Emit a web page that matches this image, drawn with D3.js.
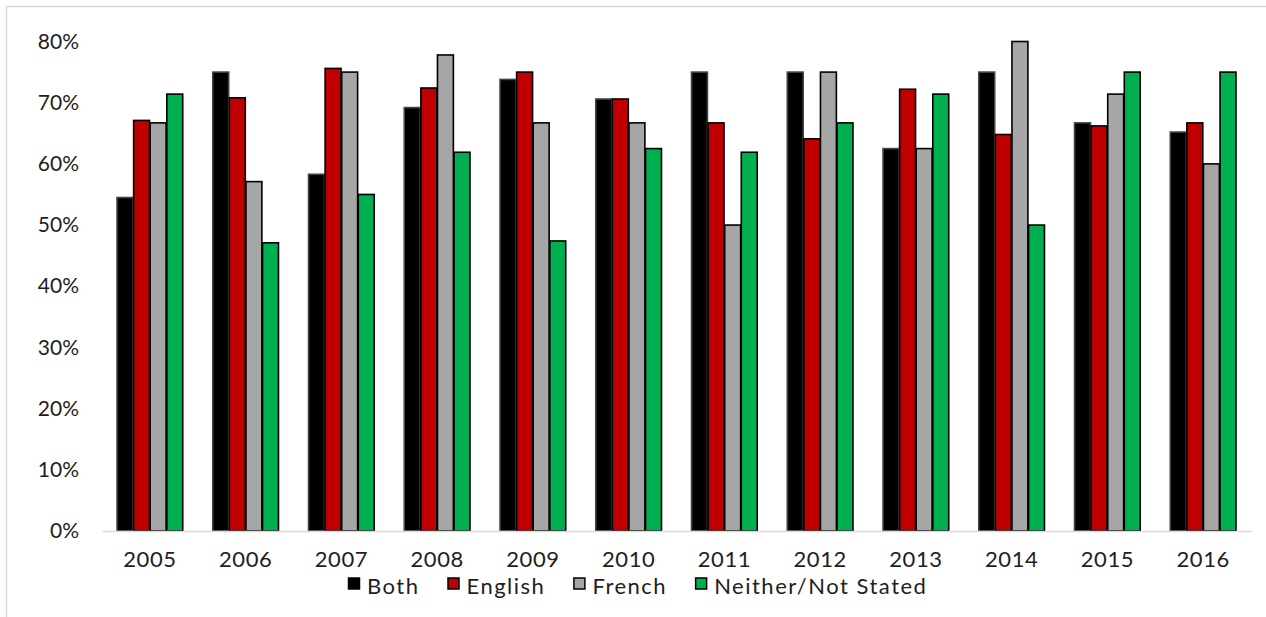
<!DOCTYPE html>
<html>
<head>
<meta charset="utf-8">
<script src="https://cdn.jsdelivr.net/npm/d3@7"></script>
<style>
  body { margin: 0; background: #fff; }
  svg { display: block; font-family: "Lato", sans-serif; }
</style>
</head>
<body>
<svg></svg>
<script>
// Data (percent)
const years = ["2005", "2006", "2007", "2008", "2009", "2010", "2011", "2012", "2013", "2014", "2015", "2016"];
const seriesNames = ["Both", "English", "French", "Neither/Not Stated"];
const bothValues = [54.5, 75, 58.3, 69.2, 73.8, 70.6, 75, 75, 62.5, 75, 66.7, 65.2];
const englishValues = [67.1, 70.8, 75.6, 72.4, 75, 70.6, 66.7, 64.1, 72.2, 64.8, 66.2, 66.7];
const frenchValues = [66.7, 57.1, 75, 77.8, 66.7, 66.7, 50, 75, 62.5, 80, 71.4, 60];
const neitherValues = [71.4, 47.1, 55, 61.9, 47.4, 62.5, 61.9, 66.7, 71.4, 50, 75, 75];
const yTicks = [0, 10, 20, 30, 40, 50, 60, 70, 80];
const colors = ["#000000", "#C00000", "#A6A6A6", "#00B050"];

const seriesValues = [bothValues, englishValues, frenchValues, neitherValues];

const width = 1266, height = 617;
const svg = d3.select("svg").attr("width", width).attr("height", height);

// chart frame
svg.append("rect")
    .attr("x", 6.5).attr("y", 6.5)
    .attr("width", width).attr("height", height)
    .attr("fill", "none")
    .attr("stroke", "#D9D9D9")
    .attr("stroke-width", 1.5);

const plot = {left: 102, right: 1251, top: 41.5, bottom: 531};

const x = d3.scaleBand()
    .domain(years)
    .range([plot.left, plot.right])
    .paddingInner(0.3)
    .paddingOuter(0.15);

const xInner = d3.scaleBand()
    .domain(seriesNames)
    .range([0, x.bandwidth()])
    .padding(0.04);

const y = d3.scaleLinear()
    .domain([0, 80])
    .range([plot.bottom, plot.top]);

// y axis labels (no line, no ticks)
const yAxis = svg.append("g")
    .attr("transform", `translate(${plot.left - 23},0)`)
    .call(d3.axisLeft(y).tickValues(yTicks).tickSize(0).tickPadding(0).tickFormat(d => d + "%"));
yAxis.select(".domain").remove();
yAxis.selectAll("text")
    .style("font-family", "Lato, sans-serif")
    .style("font-size", "21px")
    .attr("fill", "#1e1e1e");

// bars
const groups = svg.append("g").selectAll("g")
    .data(years)
    .join("g")
    .attr("transform", d => `translate(${x(d)},0)`);

groups.selectAll("rect")
    .data((yr, i) => seriesNames.map((s, j) => ({series: s, idx: j, value: seriesValues[j][i]})))
    .join("rect")
    .attr("x", d => xInner(d.series))
    .attr("y", d => y(d.value))
    .attr("width", xInner.bandwidth())
    .attr("height", d => plot.bottom - y(d.value))
    .attr("fill", d => colors[d.idx])
    .attr("stroke", d => d.idx === 0 ? "#444" : "#000")
    .attr("stroke-width", 1.6);

// x axis baseline and labels
const xAxis = svg.append("g")
    .attr("transform", `translate(0,${plot.bottom})`)
    .call(d3.axisBottom(x).tickSize(0));
xAxis.select(".domain")
    .attr("stroke", "#D9D9D9")
    .attr("stroke-width", 1.5);
xAxis.selectAll("text")
    .attr("y", 36)
    .attr("dy", null)
    .style("font-family", "Lato, sans-serif")
    .style("font-size", "22px")
    .style("letter-spacing", "0.6px")
    .attr("fill", "#1e1e1e");

// legend
const legend = svg.append("g").attr("transform", "translate(348,583)");
let lx = 0;
seriesNames.forEach((name, i) => {
    const item = legend.append("g").attr("transform", `translate(${lx},0)`);
    item.append("rect")
        .attr("x", 0.5).attr("y", -5)
        .attr("width", 11).attr("height", 11)
        .attr("fill", colors[i])
        .attr("stroke", "#000")
        .attr("stroke-width", 1.5);
    const t = item.append("text")
        .attr("x", 19).attr("y", 11)
        .style("font-size", "22px")
        .style("letter-spacing", "1.5px")
        .attr("fill", "#1e1e1e")
        .text(name);
    lx += 19 + t.node().getComputedTextLength() + 28;
});
</script>
</body>
</html>
